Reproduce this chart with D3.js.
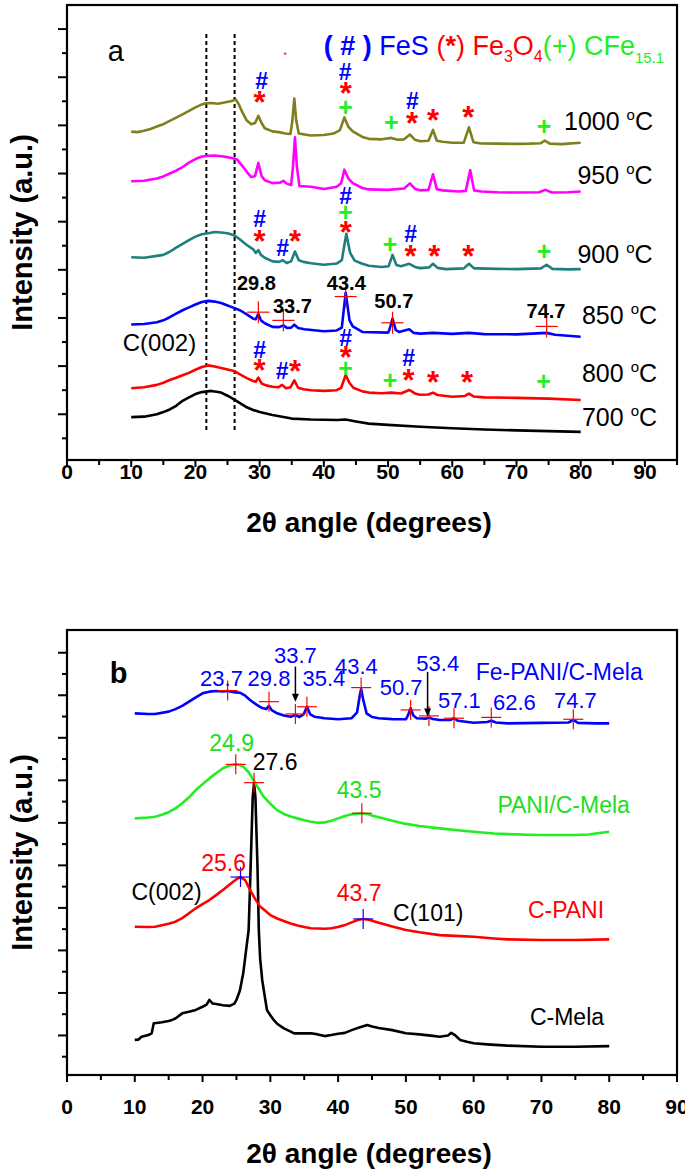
<!DOCTYPE html>
<html><head><meta charset="utf-8">
<script src="https://cdn.jsdelivr.net/npm/d3@7"></script>
<style>body{margin:0;background:#fff}svg{display:block}</style>
</head><body>
<svg id="c" width="685" height="1173"></svg>
<script>
// ---------------- DATA ----------------
const xTicks = [0,10,20,30,40,50,60,70,80,90];
// panel a series: [2theta, intensity (offset units)]
const s1000 = [[10,13.74],[11,13.72],[12,13.78],[13,13.85],[14,13.95],[15,14.05],[16,14.19],[17,14.32],[18,14.46],[19,14.6],[20,14.75],[21,14.87],[21.6,14.92],[22.5,14.93],[23.5,14.9],[24.5,14.95],[25.5,15.0],[26.3,15.07],[26.8,14.85],[27.3,14.55],[28,14.2],[28.7,14.05],[29.3,14.1],[29.8,14.4],[30.3,14.1],[30.8,13.88],[32,13.75],[33,13.72],[34,13.66],[34.8,13.64],[35.1,14.2],[35.4,15.11],[35.7,14.2],[36.1,13.66],[37,13.62],[38,13.58],[40,13.6],[41.5,13.66],[42.5,13.8],[43.2,14.33],[43.8,13.95],[44.5,13.75],[46,13.52],[47,13.44],[49,13.42],[50.5,13.48],[51.5,13.4],[52.5,13.42],[53.4,13.62],[54.2,13.4],[55,13.34],[56.3,13.36],[57,13.81],[57.6,13.36],[58.5,13.32],[60,13.28],[61.8,13.28],[62.6,13.92],[63.3,13.3],[64.5,13.25],[67,13.24],[70,13.23],[72,13.24],[73.8,13.26],[74.4,13.37],[75.2,13.24],[77,13.22],[80,13.28]];
const s950 = [[10,11.68],[12,11.7],[14,11.79],[15,11.88],[16,12.0],[17,12.12],[18,12.27],[19,12.45],[20,12.6],[21,12.71],[22,12.74],[23,12.75],[24,12.72],[25,12.68],[26,12.62],[26.5,12.58],[27.2,12.35],[28,12.07],[28.7,11.85],[29.3,11.9],[29.8,12.44],[30.3,11.9],[30.8,11.72],[32,11.6],[33.2,11.62],[33.7,11.7],[34.2,11.58],[34.9,11.52],[35.2,12.3],[35.5,13.5],[35.8,12.3],[36.2,11.48],[38,11.45],[40,11.36],[42,11.45],[42.7,11.6],[43.2,12.16],[43.8,11.8],[44.5,11.6],[46,11.4],[47,11.34],[50,11.32],[52.5,11.38],[53.4,11.59],[54.2,11.36],[55,11.3],[56.3,11.32],[57,11.97],[57.6,11.35],[58.5,11.3],[61,11.25],[62.1,11.28],[62.8,12.14],[63.4,11.3],[64.5,11.25],[67,11.22],[70,11.21],[73.5,11.22],[74.5,11.32],[75.5,11.21],[78,11.22],[80,11.25]];
const s900 = [[10,8.52],[12,8.5],[14,8.58],[15,8.62],[16,8.75],[17,8.92],[18,9.08],[19,9.23],[20,9.38],[21,9.48],[22,9.52],[23,9.57],[24,9.55],[25,9.52],[26,9.44],[27,9.25],[28,9.03],[29,8.85],[29.4,8.7],[29.8,8.82],[30.2,8.62],[30.8,8.5],[32,8.35],[33,8.33],[33.6,8.4],[34.2,8.28],[34.9,8.35],[35.5,8.76],[36.1,8.4],[36.8,8.33],[38,8.27],[40,8.21],[42,8.26],[42.8,8.4],[43.5,9.5],[44.1,8.7],[44.8,8.38],[46,8.25],[47,8.17],[49,8.12],[50.1,8.15],[50.7,8.62],[51.3,8.2],[52,8.15],[53.3,8.25],[54.2,8.12],[55,8.07],[56.4,8.1],[57,8.25],[57.7,8.08],[59,8.03],[61.8,8.06],[62.6,8.25],[63.4,8.06],[64,8.06],[67,8.04],[70,8.03],[73.8,8.06],[74.7,8.21],[75.6,8.04],[78,8.02],[80,8.03]];
const s850 = [[10,5.73],[12,5.75],[14,5.82],[15,5.9],[16,6.03],[17,6.18],[18,6.32],[19,6.44],[20,6.56],[21,6.66],[22,6.71],[23,6.68],[24,6.62],[25,6.52],[26,6.42],[27,6.31],[28,6.15],[29,5.97],[29.4,5.95],[29.8,6.17],[30.2,5.9],[30.8,5.78],[32,5.63],[33,5.62],[33.7,5.69],[34.3,5.58],[34.9,5.6],[35.4,5.72],[36,5.58],[37,5.53],[40,5.45],[42,5.48],[42.8,5.6],[43.4,7.05],[44,5.9],[44.5,5.65],[46,5.42],[50,5.39],[50.2,5.5],[50.7,5.97],[51.2,5.5],[51.7,5.42],[53.3,5.53],[54,5.38],[55,5.35],[57,5.38],[60,5.34],[62.6,5.38],[65,5.33],[70,5.32],[74.7,5.38],[76,5.3],[80,5.22]];
const s800 = [[10,3.08],[12,3.12],[14,3.22],[15,3.31],[16,3.42],[17,3.52],[18,3.62],[19,3.72],[20,3.85],[21,3.96],[22,4.03],[23,3.98],[24,3.92],[25,3.86],[26,3.8],[27,3.65],[28,3.5],[29,3.38],[29.4,3.35],[29.8,3.52],[30.3,3.28],[31,3.2],[32,3.14],[32.9,3.12],[33.5,3.22],[34.1,3.08],[34.8,3.12],[35.4,3.41],[36,3.1],[36.8,3.04],[38,3.0],[40,2.97],[42,3.0],[42.7,3.1],[43.4,3.63],[44,3.3],[44.6,3.1],[46,2.95],[47,2.9],[49,2.87],[50.5,2.9],[52,2.86],[53.3,3.01],[54.3,2.85],[55,2.81],[56.3,2.82],[57,2.9],[57.7,2.8],[60,2.73],[62,2.76],[62.6,2.86],[63.3,2.74],[65,2.7],[70,2.68],[75,2.65],[80,2.59]];
const s700 = [[10,1.88],[12,1.9],[14,2.0],[15,2.09],[16,2.2],[17,2.35],[18,2.56],[19,2.7],[20,2.84],[21,2.92],[22.5,2.97],[24,2.9],[25,2.77],[26,2.62],[27,2.45],[28,2.29],[29,2.18],[30,2.09],[32,1.97],[35,1.82],[38,1.78],[40,1.77],[42,1.76],[43.4,1.78],[45,1.7],[47,1.61],[50,1.56],[55,1.48],[60,1.42],[65,1.37],[70,1.33],[75,1.3],[80,1.27]];
const seriesA = [
  {name:"1000", color:"#7f7f1e", pts:s1000},
  {name:"950",  color:"#ff00ff", pts:s950},
  {name:"900",  color:"#1f7f7f", pts:s900},
  {name:"850",  color:"#0000ff", pts:s850},
  {name:"800",  color:"#ff0000", pts:s800},
  {name:"700",  color:"#000000", pts:s700}
];
const tempLabelsA = [["1000",77.4,14.19],["950",79.5,11.93],["900",79.5,8.66],["850",80.2,6.13],["800",80.2,3.72],["700",80.2,1.88]];
const hashA = [[30.3,15.84],[43.3,16.21],[53.8,15.01],[30,10.12],[33.6,8.89],[43.4,11.07],[53.5,9.5],[30,4.67],[33.5,3.79],[43.4,5.15],[53.2,4.33]];
const starA = [[30,15.08],[43.4,15.45],[53.75,14.22],[57,14.33],[62.5,14.49],[30,9.34],[35.5,9.34],[43.4,9.71],[53.5,8.71],[57.2,8.71],[62.5,8.71],[30,3.95],[35.5,3.93],[43.4,4.51],[53.2,3.56],[57,3.45],[62.3,3.45]];
const plusA = [[43.4,14.74],[50.5,14.08],[74.3,13.92],[43.4,10.36],[50.3,9.05],[74.3,8.75],[43.4,3.9],[50.3,3.38],[74.2,3.34]];
const crossA = [[29.8,6.24],[33.7,5.9],[43.4,6.89],[50.7,5.8],[74.7,5.65]];
const peakLabelsA = [["29.8",29.5,7.44],["33.7",35.1,6.51],["43.4",43.5,7.44],["50.7",50.9,6.71],["74.7",74.6,6.31]];
const dashA = [21.7, 26.1];

// panel b series
const fePani = [[10,17.15],[12,17.12],[13,17.12],[15,17.23],[16,17.35],[17,17.5],[18,17.7],[19,17.9],[20,18.09],[21,18.17],[22,18.2],[23,18.18],[23.7,18.2],[24.5,18.15],[25.5,18.12],[26.3,17.98],[27,17.78],[28,17.55],[28.8,17.4],[29.4,17.35],[29.8,17.5],[30.2,17.3],[31,17.15],[32,17.05],[33,16.99],[33.7,17.07],[34.3,16.98],[34.9,17.1],[35.4,17.46],[35.9,17.1],[36.5,16.99],[38,16.92],[40,16.87],[42,16.92],[42.8,17.2],[43.2,18.0],[43.4,18.3],[43.7,17.8],[44.2,17.15],[45,16.98],[46,16.92],[48,16.88],[50,16.87],[50.3,17.05],[50.7,17.39],[51.1,17.05],[51.6,16.92],[53,16.9],[53.4,16.95],[54,16.88],[55,16.84],[56.5,16.84],[57.1,16.92],[57.7,16.8],[60,16.71],[62,16.74],[62.6,16.8],[63.3,16.72],[65,16.68],[70,16.7],[74,16.72],[74.7,16.84],[75.4,16.7],[78,16.68],[80,16.68]];
const paniMela = [[10,12.21],[12,12.25],[13,12.29],[14,12.38],[15,12.5],[16,12.68],[17,12.92],[18,13.2],[19,13.54],[20,13.82],[21,14.09],[22,14.33],[23,14.57],[24,14.7],[24.9,14.75],[25.5,14.72],[26,14.64],[26.8,14.38],[27.5,14.02],[28.2,13.65],[29,13.23],[30,12.9],[31,12.6],[32,12.42],[33,12.3],[34,12.21],[35,12.12],[36,12.05],[37,12.0],[38,12.02],[39,12.1],[40,12.21],[41,12.32],[42,12.4],[43.5,12.45],[44.5,12.4],[45,12.35],[46,12.26],[48,12.1],[50,11.95],[52,11.85],[55,11.74],[58,11.64],[60,11.58],[63,11.5],[65,11.47],[68,11.44],[70,11.43],[75,11.43],[77,11.45],[78,11.5],[80,11.58]];
const cPani = [[10,7.11],[12,7.1],[13,7.11],[14,7.18],[15,7.25],[16,7.35],[17,7.52],[18,7.75],[19,7.98],[20,8.18],[21,8.37],[22,8.6],[23,8.84],[24,9.1],[25,9.35],[25.6,9.45],[26.3,9.3],[27,8.84],[27.8,8.4],[28.5,8.06],[29.3,7.85],[30,7.66],[31,7.5],[32,7.38],[33,7.27],[34,7.17],[35,7.1],[36,7.04],[38,7.02],[39,7.04],[40,7.1],[41,7.19],[42,7.32],[43,7.44],[43.7,7.48],[44.5,7.44],[45,7.4],[46,7.3],[48,7.12],[50,6.96],[52,6.85],[55,6.72],[58,6.67],[60,6.64],[63,6.56],[65,6.52],[70,6.49],[75,6.49],[80,6.52]];
const cMela = [[10,1.79],[10.5,1.8],[11,1.94],[12,2.02],[12.5,2.1],[12.8,2.57],[13.5,2.6],[14,2.62],[15,2.68],[15.5,2.73],[16,2.8],[17,3.04],[18,3.12],[19,3.2],[20,3.35],[20.6,3.45],[21,3.67],[21.5,3.5],[22,3.48],[23,3.42],[24,3.39],[24.7,3.5],[25,3.67],[25.5,4.1],[26,4.92],[26.5,6.2],[26.8,6.96],[27.1,10],[27.4,13.2],[27.6,13.87],[27.8,13.2],[28.1,10],[28.3,6.96],[28.5,5.6],[28.8,4.61],[29.2,3.8],[29.5,3.2],[30,2.95],[30.5,2.73],[31,2.55],[32,2.33],[33,2.18],[33.5,2.1],[35,2.1],[36,2.1],[37,2.05],[38,1.97],[39,2.02],[40,2.08],[41,2.12],[42,2.25],[43,2.36],[44.3,2.49],[45,2.42],[46,2.35],[48,2.25],[50,2.1],[52,2.05],[54,1.98],[55,1.94],[56.2,2.0],[56.7,2.12],[57.3,2.0],[58,1.79],[59,1.7],[60,1.63],[62,1.58],[65,1.52],[70,1.47],[75,1.47],[80,1.5]];
const seriesB = [
  {name:"C-Mela", color:"#000000", pts:cMela},
  {name:"C-PANI", color:"#ff0000", pts:cPani},
  {name:"PANI/C-Mela", color:"#22ee22", pts:paniMela},
  {name:"Fe-PANI/C-Mela", color:"#0000ff", pts:fePani}
];
const crossBred = [[23.7,18.22],[29.8,17.7],[33.7,17.12],[35.4,17.46],[43.4,18.36],[50.7,17.31],[53.4,17.03],[57.1,16.92],[62.6,16.96],[74.7,16.87],[24.9,14.75],[43.5,12.45],[27.6,13.89]];
const crossBblue = [[25.6,9.45],[43.7,7.48]];
const peakLabelsB = [["23.7",22.8,18.8],["29.8",29.8,18.8],["33.7",33.7,19.9],["35.4",37.9,18.8],["43.4",42.7,19.4],["50.7",49.3,18.4],["53.4",54.7,19.5],["57.1",57.9,17.8],["62.6",66,17.7],["74.7",75,17.8]];
const arrowsB = [[33.7,19.35,17.7],[53.2,19.1,17.0]];
const textsB = [
  {t:"Fe-PANI/C-Mela", x:60.3, y:19.1, c:"#0000ff", a:"start"},
  {t:"24.9", x:24.3, y:15.74, c:"#22dd22", a:"middle"},
  {t:"27.6", x:30.7, y:14.87, c:"#000", a:"middle"},
  {t:"43.5", x:43.1, y:13.54, c:"#22dd22", a:"middle"},
  {t:"PANI/C-Mela", x:63.5, y:12.83, c:"#22dd22", a:"start"},
  {t:"25.6", x:23.1, y:10.1, c:"#ff0000", a:"middle"},
  {t:"C(002)", x:14.7, y:8.76, c:"#000", a:"middle"},
  {t:"43.7", x:43.1, y:8.69, c:"#ff0000", a:"middle"},
  {t:"C(101)", x:53.3, y:7.74, c:"#000", a:"middle"},
  {t:"C-PANI", x:68, y:7.9, c:"#ff0000", a:"start"},
  {t:"C-Mela", x:68.3, y:2.88, c:"#000", a:"start"}
];

// ---------------- DRAWING ----------------
const svg = d3.select("#c");
const L = 67, R = 677;
const narrow = "'Liberation Sans Narrow','Arial Narrow','Liberation Sans',Arial,sans-serif";
const sans = "'Liberation Sans',Arial,sans-serif";

const A = {x: d3.scaleLinear([0,95],[L,R]), y: d3.scaleLinear([0.1,19],[460,5]), yTicks: d3.range(1,19), labelY: 479, titleY: 532};
const B = {x: d3.scaleLinear([0,90],[L,R]), y: d3.scaleLinear([0.14,21.07],[1075,630]), yTicks: d3.range(1,21), labelY: 1114, titleY: 1163};

function frame(P, maxTick){
  const g = svg.append("g");
  const [y0,y1] = P.y.range();
  const xt = d3.range(0, maxTick+0.1, 5);
  g.selectAll("line.xt").data(xt).join("line")
    .attr("x1",d=>P.x(d)).attr("x2",d=>P.x(d)).attr("y1",y0).attr("y2",d=>y0+(d%10===0?7:5))
    .attr("stroke","#000").attr("stroke-width",2);
  g.selectAll("text.xl").data(xTicks).join("text")
    .attr("x",d=>P.x(d)).attr("y",P.labelY).attr("text-anchor","middle")
    .attr("font-family",narrow).attr("font-weight","bold").attr("font-size",21).text(d=>d);
  g.selectAll("line.yt").data(P.yTicks).join("line")
    .attr("x1",L).attr("x2",(d,i)=>L-((P.yTicks.length-i)%2===1?9:5)).attr("y1",d=>P.y(d)).attr("y2",d=>P.y(d))
    .attr("stroke","#000").attr("stroke-width",2);
  g.append("rect").attr("x",L).attr("y",y1).attr("width",R-L).attr("height",y0-y1)
    .attr("fill","none").attr("stroke","#000").attr("stroke-width",2.2);
  g.append("text").attr("x",(L+R)/2-3).attr("y",P.titleY).attr("text-anchor","middle")
    .attr("font-family",narrow).attr("font-weight","bold").attr("font-size",28)
    .text("2θ angle (degrees)");
  g.append("text").attr("transform",`translate(32,${(y0+y1)/2}) rotate(-90)`).attr("text-anchor","middle")
    .attr("font-family",narrow).attr("font-weight","bold").attr("font-size",29)
    .text("Intensity (a.u.)");
}

function curves(P, series){
  const line = d3.line().x(d=>P.x(d[0])).y(d=>P.y(d[1]));
  svg.append("g").selectAll("path").data(series).join("path")
    .attr("d",d=>line(d.pts)).attr("fill","none").attr("stroke",d=>d.color)
    .attr("stroke-width",2.6).attr("stroke-linejoin","round");
}

function crosses(P, pts, color, w, h){
  const g = svg.append("g");
  pts.forEach(p=>{
    const cx=P.x(p[0]), cy=P.y(p[1]);
    g.append("line").attr("x1",cx-w/2).attr("x2",cx+w/2).attr("y1",cy).attr("y2",cy).attr("stroke",color).attr("stroke-width",1.2);
    g.append("line").attr("x1",cx).attr("x2",cx).attr("y1",cy-h/2).attr("y2",cy+h/2).attr("stroke",color).attr("stroke-width",1.2);
  });
}

// ---- panel a ----
frame(A, 95);
svg.append("g").selectAll("line").data(dashA).join("line")
  .attr("x1",d=>A.x(d)).attr("x2",d=>A.x(d)).attr("y1",A.y(17.8)).attr("y2",A.y(1.3))
  .attr("stroke","#000").attr("stroke-width",2).attr("stroke-dasharray","4,3");
curves(A, seriesA);
svg.append("g").selectAll("text").data(hashA).join("text")
  .attr("x",d=>A.x(d[0])).attr("y",d=>A.y(d[1])+8).attr("text-anchor","middle")
  .attr("font-family",sans).attr("font-weight","bold").attr("font-size",23).attr("fill","#0000ff").text("#");
svg.append("g").selectAll("text").data(starA).join("text")
  .attr("x",d=>A.x(d[0])).attr("y",d=>A.y(d[1])+14).attr("text-anchor","middle")
  .attr("font-family",sans).attr("font-weight","bold").attr("font-size",31).attr("fill","#ff0000").text("*");
svg.append("g").selectAll("text").data(plusA).join("text")
  .attr("x",d=>A.x(d[0])).attr("y",d=>A.y(d[1])+8).attr("text-anchor","middle")
  .attr("font-family",sans).attr("font-weight","bold").attr("font-size",25).attr("fill","#22ee22").text("+");
crosses(A, crossA, "#ff0000", 22, 22);
svg.append("g").selectAll("text").data(peakLabelsA).join("text")
  .attr("x",d=>A.x(d[1])).attr("y",d=>A.y(d[2])+7).attr("text-anchor","middle")
  .attr("font-family",narrow).attr("font-weight","bold").attr("font-size",20).text(d=>d[0]);
const tl = svg.append("g").selectAll("text").data(tempLabelsA).join("text")
  .attr("x",d=>A.x(d[1])).attr("y",d=>A.y(d[2])+9)
  .attr("font-family",sans).attr("font-size",25);
tl.append("tspan").text(d=>d[0]+" ");
tl.append("tspan").attr("font-size",15).attr("dy",-10).text("o");
tl.append("tspan").attr("dy",10).text("C");
svg.append("text").attr("x",A.x(14.4)).attr("y",A.y(4.95)+8).attr("text-anchor","middle")
  .attr("font-family",sans).attr("font-size",24).text("C(002)");
svg.append("text").attr("x",A.x(7.6)).attr("y",A.y(17.07)+10).attr("text-anchor","middle")
  .attr("font-family",sans).attr("font-size",29).text("a");
svg.append("text").attr("x",A.x(34)).attr("y",A.y(16.93)+3).attr("text-anchor","middle")
  .attr("font-family",sans).attr("font-size",9).attr("fill","#ff0000").text("*");
// legend
const lg = svg.append("text").attr("x",A.x(40.0)).attr("y",A.y(17.3)+9).attr("font-family",sans).attr("font-size",27);
lg.append("tspan").attr("fill","#0000ff").attr("font-weight","bold").text("( # ) ");
lg.append("tspan").attr("fill","#0000ff").text("FeS ");
lg.append("tspan").attr("fill","#ff0000").text("(");
lg.append("tspan").attr("fill","#ff0000").attr("font-weight","bold").text("*");
lg.append("tspan").attr("fill","#ff0000").text(") Fe");
lg.append("tspan").attr("fill","#ff0000").attr("font-size",16).attr("dy",7).text("3");
lg.append("tspan").attr("fill","#ff0000").attr("dy",-7).text("O");
lg.append("tspan").attr("fill","#ff0000").attr("font-size",16).attr("dy",7).text("4");
lg.append("tspan").attr("fill","#22ee22").attr("dy",-7).text("(+) CFe");
lg.append("tspan").attr("fill","#22ee22").attr("font-size",15).attr("dy",8).text("15.1");

// ---- panel b ----
frame(B, 90);
curves(B, seriesB);
crosses(B, crossBred, "#ff0000", 20, 20);
crosses(B, crossBblue, "#0000ff", 20, 20);
svg.append("g").selectAll("text").data(peakLabelsB).join("text")
  .attr("x",d=>B.x(d[1])).attr("y",d=>B.y(d[2])+8).attr("text-anchor","middle")
  .attr("font-family",sans).attr("font-size",22).attr("fill","#0000ff").text(d=>d[0]);
svg.append("g").selectAll("text").data(textsB).join("text")
  .attr("x",d=>B.x(d.x)).attr("y",d=>B.y(d.y)+8).attr("text-anchor",d=>d.a)
  .attr("font-family",sans).attr("font-size",23).attr("fill",d=>d.c).text(d=>d.t);
const ag = svg.append("g");
arrowsB.forEach(a=>{
  const x=B.x(a[0]), y1=B.y(a[1]), y2=B.y(a[2]);
  ag.append("line").attr("x1",x).attr("x2",x).attr("y1",y1).attr("y2",y2-6).attr("stroke","#000").attr("stroke-width",1.5);
  ag.append("path").attr("d",`M${x-3.5},${y2-8}L${x+3.5},${y2-8}L${x},${y2}Z`).attr("fill","#000");
});
svg.append("text").attr("x",B.x(7.6)).attr("y",B.y(19.03)+10).attr("text-anchor","middle")
  .attr("font-family",sans).attr("font-weight","bold").attr("font-size",29).text("b");
</script>
</body></html>
